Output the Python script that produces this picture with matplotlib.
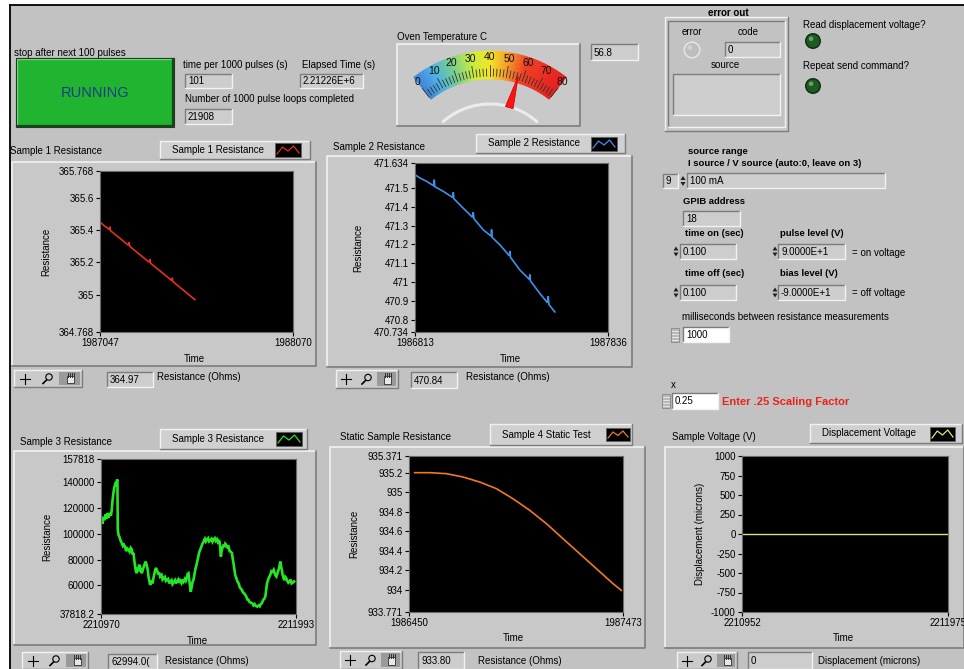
import numpy as np
import matplotlib.pyplot as plt
from matplotlib.patches import Rectangle, Circle, Polygon
from matplotlib.colors import LinearSegmentedColormap

plt.rcParams['font.family'] = ['Liberation Sans', 'DejaVu Sans']

W, H = 964, 669

# ---------------- data ----------------
oven_temp = 56.8
gauge_ticks = [0, 10, 20, 30, 40, 50, 60, 70, 80]

# Sample 1
s1_t0, s1_t1 = 1987047, 1988070
s1_ylim = (364.768, 365.768)
s1_yticks = [364.768, 365, 365.2, 365.4, 365.6, 365.768]
s1_ylabels = ['364.768', '365', '365.2', '365.4', '365.6', '365.768']
s1_off = [0, 20, 35, 50, 52, 55, 80, 106, 150, 155, 158, 200, 220, 260, 265, 268,
          310, 350, 380, 383, 386, 420, 460, 503]
s1_val = [365.451, 365.430, 365.418, 365.404, 365.422, 365.398, 365.374, 365.350,
          365.307, 365.325, 365.300, 365.259, 365.240, 365.202, 365.220, 365.195,
          365.155, 365.117, 365.088, 365.105, 365.082, 365.049, 365.010, 364.969]

# Sample 2
s2_t0, s2_t1 = 1986813, 1987836
s2_ylim = (470.734, 471.634)
s2_yticks = [470.734, 470.8, 470.9, 471, 471.1, 471.2, 471.3, 471.4, 471.5, 471.634]
s2_ylabels = ['470.734', '470.8', '470.9', '471', '471.1', '471.2', '471.3', '471.4',
              '471.5', '471.634']
s2_off = [0, 26, 62, 100, 102, 105, 150, 200, 203, 206, 256, 305, 309, 312, 362, 403,
          406, 409, 450, 500, 503, 506, 556, 606, 609, 612, 662, 702, 706, 710, 741]
s2_val = [471.572, 471.554, 471.536, 471.512, 471.545, 471.508, 471.483, 471.450,
          471.478, 471.444, 471.393, 471.345, 471.372, 471.338, 471.278, 471.245,
          471.280, 471.238, 471.198, 471.140, 471.165, 471.132, 471.064, 471.014,
          471.040, 471.006, 470.939, 470.890, 470.925, 470.880, 470.841]

# Sample 3
s3_t0, s3_t1 = 2210970, 2211993
s3_ylim = (37818.2, 157818)
s3_yticks = [37818.2, 60000, 80000, 100000, 120000, 140000, 157818]
s3_ylabels = ['37818.2', '60000', '80000', '100000', '120000', '140000', '157818']
s3_off = [0, 4, 8, 12, 16, 20, 25, 30, 35, 40, 47, 52, 56, 60, 65, 70, 74, 78, 82, 86,
          88, 92, 96, 102, 109, 115, 120, 126, 132, 138, 144, 150, 156, 161, 166, 170,
          175, 179, 183, 187, 191, 196, 200, 205, 210, 214, 218, 222, 228, 235, 240,
          245, 250, 255, 258, 265, 270, 275, 282, 288, 293, 300, 305, 310, 318, 323,
          328, 335, 340, 345, 352, 358, 363, 370, 375, 380, 388, 393, 398, 405, 410,
          415, 422, 428, 433, 440, 445, 450, 455, 459, 464, 468, 471, 476, 480, 485,
          490, 495, 503, 510, 515, 520, 528, 533, 538, 545, 550, 555, 562, 567, 573,
          580, 585, 590, 597, 602, 608, 613, 618, 622, 626, 629, 632, 636, 639, 645,
          648, 652, 658, 663, 669, 675, 681, 687, 691, 695, 700, 704, 710, 716, 722,
          728, 733, 739, 745, 751, 757, 763, 768, 774, 780, 787, 794, 800, 806, 813,
          820, 827, 833, 838, 844, 850, 856, 862, 867, 871, 878, 883, 888, 894, 900,
          906, 912, 916, 920, 925, 928, 933, 937, 941, 945, 949, 953, 958, 962, 967,
          972, 977, 983, 990, 995, 1000, 1007, 1013]
s3_val = [110000, 113000, 107500, 113000, 110500, 112000, 115000, 111500, 116000,
          112500, 116000, 114000, 118000, 125000, 131400, 136000, 138000, 137000,
          140500, 142000, 103000, 99000, 97800, 95000, 92700, 90500, 91500, 90000,
          86500, 88500, 87500, 86000, 89000, 88000, 84000, 85000, 79000, 74500, 71000,
          69400, 72500, 72000, 76000, 74500, 71000, 69400, 71500, 73300, 76000, 78400,
          75500, 72000, 66000, 62500, 60300, 63500, 61500, 65500, 70500, 73500, 72000,
          68500, 70000, 66800, 68000, 64500, 65500, 66500, 63500, 64200, 65000, 61500,
          62900, 64000, 61000, 62100, 64000, 61500, 62900, 64500, 62000, 63700, 61800,
          64500, 62900, 65000, 63500, 65500, 69000, 69400, 63000, 58000, 55100, 59000,
          62500, 64200, 68000, 72500, 77100, 82000, 85500, 87500, 90500, 92500, 93900,
          96000, 94000, 95200, 96500, 94000, 94700, 96000, 93800, 95200, 96500, 94500,
          95700, 93500, 94500, 93900, 88000, 82300, 86000, 88500, 90000, 91500, 89500,
          92100, 91000, 89500, 90000, 86500, 86000, 85000, 80500, 77100, 72000, 68100,
          65500, 63000, 61600, 58500, 57500, 56500, 54500, 53800, 52600, 51000, 49000,
          48700, 47000, 46500, 46100, 44500, 45500, 44000, 43500, 44500, 43800, 45500,
          46100, 48500, 49500, 51300, 57000, 61600, 65000, 66500, 68100, 71000, 70500,
          72000, 69000, 67500, 66800, 69000, 70700, 72500, 75500, 78400, 74500, 72000,
          68000, 65500, 64000, 66500, 65500, 63500, 62000, 62900, 64500, 61500, 62100,
          63000]

# Sample 4 (static)
s4_t0, s4_t1 = 1986450, 1987473
s4_ylim = (933.771, 935.371)
s4_yticks = [933.771, 934, 934.2, 934.4, 934.6, 934.8, 935, 935.2, 935.371]
s4_ylabels = ['933.771', '934', '934.2', '934.4', '934.6', '934.8', '935', '935.2',
              '935.371']
s4_off = [27, 99, 178, 258, 338, 418, 497, 577, 657, 736, 816, 896, 975, 1015]
s4_val = [935.200, 935.200, 935.190, 935.156, 935.104, 935.036, 934.933, 934.814,
          934.677, 934.523, 934.369, 934.215, 934.062, 933.993]

# Displacement
s5_t0, s5_t1 = 2210952, 2211975
s5_ylim = (-1000, 1000)
s5_yticks = [-1000, -750, -500, -250, 0, 250, 500, 750, 1000]
s5_ylabels = ['-1000', '-750', '-500', '-250', '0', '250', '500', '750', '1000']
s5_off = [0, 1023]
s5_val = [0, 0]

# ---------------- drawing helpers ----------------
PANEL = '#c2c2c2'
FS = 7

fig = plt.figure(figsize=(W / 100, H / 100), dpi=100)
fig.patch.set_facecolor('white')
bg = fig.add_axes([0, 0, 1, 1])
bg.set_xlim(0, W)
bg.set_ylim(H, 0)
bg.axis('off')

bg.add_patch(Rectangle((10, 5), W - 10, H - 5, fc=PANEL, ec='none', zorder=0))
bg.plot([10, 10], [5, H], color='black', lw=1.3, zorder=0.5)
bg.plot([10, W], [5, 5], color='black', lw=1.3, zorder=0.5)


def bevel(x0, y0, x1, y1, fc, raised=True, lw=1.0, z=1, hi='#f2f2f2', lo='#7c7c7c'):
    bg.add_patch(Rectangle((x0, y0), x1 - x0, y1 - y0, fc=fc, ec='none', zorder=z))
    a, b = (hi, lo) if raised else (lo, hi)
    bg.plot([x0, x0, x1], [y1, y0, y0], color=a, lw=lw, zorder=z + 0.1)
    bg.plot([x0, x1, x1], [y1, y1, y0], color=b, lw=lw, zorder=z + 0.1)


def txt(x, y, s, fs=FS, **kw):
    kw.setdefault('va', 'center')
    kw.setdefault('ha', 'left')
    kw.setdefault('zorder', 5)
    bg.text(x, y, s, fontsize=fs, **kw)


def numbox(x0, y0, x1, y1, s, fc='#cdcdcd'):
    bevel(x0, y0, x1, y1, fc, raised=False, z=2)
    txt(x0 + 3, (y0 + y1) / 2 + 0.5, s)


def spinner(x, y0, y1):
    ym = (y0 + y1) / 2
    bg.add_patch(Polygon([[x - 2.5, ym - 1], [x + 2.5, ym - 1], [x, ym - 5]],
                         fc='#202020', ec='none', zorder=4))
    bg.add_patch(Polygon([[x - 2.5, ym + 1], [x + 2.5, ym + 1], [x, ym + 5]],
                         fc='#202020', ec='none', zorder=4))


def knob(x, y):
    bg.add_patch(Rectangle((x - 4, y - 7), 8, 14, fc='#b8b8b8', ec='#888888', lw=0.6, zorder=3))
    for dy in (-4, -1, 2, 5):
        bg.plot([x - 3, x + 3], [y + dy, y + dy], color='#eeeeee', lw=0.6, zorder=4)


def led(x, y, r, fc, ring, shine):
    bg.add_patch(Circle((x, y), r + 1.5, fc=ring, ec='none', zorder=3))
    bg.add_patch(Circle((x, y), r, fc=fc, ec='none', zorder=4))
    bg.add_patch(Circle((x - r * 0.3, y - r * 0.35), r * 0.35, fc=shine,
                        ec='none', alpha=0.6, zorder=5))


def palette(x0, y0, x1, y1):
    bevel(x0, y0, x1, y1, '#cacaca', raised=True, z=2)
    w = (x1 - x0) / 3
    ym = (y0 + y1) / 2
    bg.add_patch(Rectangle((x0 + 2 * w, y0 + 2), w - 2, y1 - y0 - 4, fc='#9a9a9a', ec='none', zorder=3))
    cx = x0 + w / 2
    bg.plot([cx - 5, cx + 5], [ym, ym], color='black', lw=0.8, zorder=4)
    bg.plot([cx, cx], [ym - 5, ym + 5], color='black', lw=0.8, zorder=4)
    cx = x0 + 1.5 * w
    bg.add_patch(Circle((cx + 1, ym - 1.5), 3.2, fc='none', ec='black', lw=0.8, zorder=4))
    bg.plot([cx - 1.5, cx - 5], [ym + 1.5, ym + 5], color='black', lw=1.2, zorder=4)
    cx = x0 + 2.5 * w
    bg.add_patch(Rectangle((cx - 3.5, ym - 3), 7, 7.5, fc='#e8e8e8', ec='#303030', lw=0.6, zorder=4))
    for k in range(4):
        bg.plot([cx - 3 + 2 * k, cx - 3 + 2 * k], [ym - 6, ym - 2], color='#303030', lw=0.7, zorder=4)


def legend_box(x0, y0, x1, y1, name, color, sw):
    bevel(x0, y0, x1, y1, '#d0d0d0', raised=True, z=2)
    txt(x0 + 12, (y0 + y1) / 2, name)
    sx0, sy0, sx1, sy1 = sw
    bg.add_patch(Rectangle((sx0, sy0), sx1 - sx0, sy1 - sy0, fc='black', ec='#606060', lw=0.6, zorder=4))
    xs = np.linspace(sx0 + 2, sx1 - 2, 5)
    ys = [sy1 - 3, sy0 + 4, (sy0 + sy1) / 2 + 1, sy0 + 3, sy1 - 4]
    bg.plot(xs, ys, color=color, lw=0.9, zorder=5)


def graph(frame, plot, title, title_xy, leg, leg_name, sw, color, lw,
          t0, t1, off, val, ylim, yticks, ylabels, ylab, ylab_x, time_xy,
          pal, vbox, vtext, unit, unit_xy):
    bevel(*frame, '#c8c8c8', raised=True, lw=1.2, z=1)
    txt(title_xy[0], title_xy[1], title)
    legend_box(*leg, leg_name, color, sw)
    txt(ylab_x, (plot[1] + plot[3]) / 2, ylab, rotation=90, ha='center')
    txt(time_xy[0], time_xy[1], 'Time', ha='center')
    palette(*pal)
    numbox(*vbox, vtext)
    txt(unit_xy[0], unit_xy[1], unit)

    x0, y0, x1, y1 = plot
    ax = fig.add_axes([x0 / W, 1 - y1 / H, (x1 - x0) / W, (y1 - y0) / H])
    ax.set_facecolor('black')
    ax.plot([t0 + o for o in off], val, color=color, lw=lw, solid_joinstyle='miter')
    ax.set_xlim(t0, t1)
    ax.set_ylim(*ylim)
    ax.set_yticks(yticks)
    ax.set_yticklabels(ylabels)
    ax.set_xticks([t0, t1])
    ax.set_xticklabels([str(t0), str(t1)])
    ax.tick_params(labelsize=FS, length=3, width=0.8, pad=1.5, direction='out')
    for sp in ax.spines.values():
        sp.set_color('#6a6a6a')
        sp.set_linewidth(0.8)
    return ax


# ---------------- top-left controls ----------------
txt(14, 53, 'stop after next 100 pulses')
bevel(17, 59, 173, 126, '#20b431', raised=True, lw=1.6, z=2, hi='#6ee27a', lo='#0c4e12')
bg.add_patch(Rectangle((16, 58), 158, 69, fc='none', ec='#303030', lw=0.8, zorder=3))
txt(95, 93, 'RUNNING', fs=10.5, ha='center', color='#1c3d86')

txt(183, 65, 'time per 1000 pulses (s)')
numbox(185, 74, 232, 88, '101')
txt(302, 65, 'Elapsed Time (s)')
numbox(300, 74, 363, 88, '2.21226E+6')
txt(185, 99, 'Number of 1000 pulse loops completed')
numbox(185, 109, 232, 124, '21908')

# ---------------- gauge ----------------
txt(397, 37, 'Oven Temperature C')
bevel(397, 44, 580, 126, '#c9c9c9', raised=True, lw=1.2, z=1)
numbox(591, 44, 638, 60, '%.1f' % oven_temp)

gx, gy = 490, 175
cmap = LinearSegmentedColormap.from_list('oven', [
    (0.0, '#3b7fdc'), (0.12, '#48b0e6'), (0.25, '#74d08a'), (0.38, '#c8ee3a'),
    (0.5, '#f6e81e'), (0.62, '#f89a22'), (0.74, '#f23a1e'), (1.0, '#e81818')])


def gpt(v, r):
    th = np.radians(-38 + v / 80 * 76)
    return gx + r * np.sin(th), gy - r * np.cos(th)


steps = np.linspace(0, 80, 161)
for a, b in zip(steps[:-1], steps[1:]):
    pts = [gpt(a, 96), gpt(a, 124), gpt(b, 124), gpt(b, 96)]
    bg.add_patch(Polygon(pts, fc=cmap((a + b) / 160), ec=cmap((a + b) / 160), lw=0.3, zorder=2))
for v in np.arange(0, 81, 2):
    r1 = 110 if v % 10 == 0 else 106
    p0, p1 = gpt(v, 99), gpt(v, r1)
    bg.plot([p0[0], p1[0]], [p0[1], p1[1]], color='#303030', lw=0.6, zorder=3)
for v in gauge_ticks:
    px, py = gpt(v, 118)
    txt(px, py, str(v), fs=7.5, ha='center', color='#101010')
arc = np.linspace(-41, 41, 60)
bg.plot(gx + 71 * np.sin(np.radians(arc)), gy - 71 * np.cos(np.radians(arc)),
        color='#ececec', lw=2.2, zorder=2)
th = np.radians(-38 + oven_temp / 80 * 76)
tip = gpt(oven_temp, 103)
b1 = (gx + 70 * np.sin(th) - 4 * np.cos(th), gy - 70 * np.cos(th) - 4 * np.sin(th))
b2 = (gx + 70 * np.sin(th) + 4 * np.cos(th), gy - 70 * np.cos(th) + 4 * np.sin(th))
bg.add_patch(Polygon([tip, b1, b2], fc='#ff1414', ec='#c00000', lw=0.5, zorder=4))

# ---------------- error cluster & LEDs ----------------
bevel(665, 17, 788, 131, '#c6c6c6', raised=True, lw=1.0, z=1)
bevel(668, 21, 785, 127, '#c2c2c2', raised=False, lw=1.0, z=1.5)
txt(728, 13, 'error out', fontweight='bold', ha='center')
txt(692, 32, 'error', ha='center')
txt(748, 32, 'code', ha='center')
led(692, 50, 7, '#bdbdbd', '#e6e6e6', '#e0e0e0')
numbox(725, 42, 780, 57, '0')
txt(725, 65, 'source', ha='center')
bevel(673, 74, 780, 115, '#cdcdcd', raised=False, z=2)

txt(803, 25, 'Read displacement voltage?')
led(813, 41, 6.5, '#1f5a22', '#0d300f', '#9ad09a')
txt(803, 66, 'Repeat send command?')
led(813, 86, 6.5, '#1f5a22', '#0d300f', '#9ad09a')

# ---------------- right settings ----------------
txt(688, 152, 'source range', fontweight='bold', fs=6.8)
txt(688, 163, 'I source / V source (auto:0, leave on 3)', fontweight='bold', fs=6.8)
numbox(663, 174, 678, 188, '9')
spinner(683, 174, 188)
numbox(687, 173, 885, 188, '100 mA')

txt(683, 202, 'GPIB address', fontweight='bold', fs=6.8)
numbox(683, 211, 740, 226, '18')

txt(685, 234, 'time on (sec)', fontweight='bold', fs=6.8)
spinner(676, 244, 259)
numbox(680, 244, 736, 259, '0.100')
txt(780, 234, 'pulse level (V)', fontweight='bold', fs=6.8)
spinner(775, 244, 259)
numbox(778, 244, 845, 259, '9.0000E+1')
txt(852, 253, '= on voltage')

txt(685, 274, 'time off (sec)', fontweight='bold', fs=6.8)
spinner(676, 285, 300)
numbox(680, 285, 736, 300, '0.100')
txt(780, 274, 'bias level (V)', fontweight='bold', fs=6.8)
spinner(775, 285, 300)
numbox(778, 285, 845, 300, '-9.0000E+1')
txt(852, 293, '= off voltage')

txt(682, 317, 'milliseconds between resistance measurements')
knob(675, 335)
numbox(683, 327, 729, 342, '1000', fc='white')

txt(671, 385, 'x')
knob(666, 401)
numbox(672, 393, 718, 409, '0.25', fc='white')
txt(722, 402, 'Enter .25 Scaling Factor', fs=8, fontweight='bold', color='#e8241e')

# ---------------- graphs ----------------
graph((12, 162, 316, 366), (100, 171, 293, 332), 'Sample 1 Resistance', (10, 151),
      (160, 141, 310, 159), 'Sample 1 Resistance', (275, 143, 301, 157), '#e2301c', 1.2,
      s1_t0, s1_t1, s1_off, s1_val, s1_ylim, s1_yticks, s1_ylabels,
      'Resistance', 46, (194, 359), (14, 370, 82, 387), (107, 372, 153, 387), '364.97',
      'Resistance (Ohms)', (157, 377))

graph((327, 156, 632, 367), (415, 163, 608, 332), 'Sample 2 Resistance', (333, 147),
      (476, 134, 625, 153), 'Sample 2 Resistance', (591, 137, 617, 151), '#3c92ea', 1.2,
      s2_t0, s2_t1, s2_off, s2_val, s2_ylim, s2_yticks, s2_ylabels,
      'Resistance', 358, (510, 359), (336, 370, 398, 388), (411, 372, 457, 388), '470.84',
      'Resistance (Ohms)', (466, 377))

graph((14, 451, 316, 645), (101, 459, 296, 614), 'Sample 3 Resistance', (20, 442),
      (160, 429, 307, 449), 'Sample 3 Resistance', (276, 432, 302, 446), '#25e625', 1.9,
      s3_t0, s3_t1, s3_off, s3_val, s3_ylim, s3_yticks, s3_ylabels,
      'Resistance', 47, (197, 641), (22, 652, 88, 669), (108, 654, 157, 669), '62994.0(',
      'Resistance (Ohms)', (165, 661))

graph((330, 447, 645, 648), (409, 456, 623, 612), 'Static Sample Resistance', (340, 437),
      (490, 424, 632, 445), 'Sample 4 Static Test', (606, 428, 630, 441), '#f07a22', 1.2,
      s4_t0, s4_t1, s4_off, s4_val, s4_ylim, s4_yticks, s4_ylabels,
      'Resistance', 354, (513, 638), (340, 651, 402, 669), (418, 652, 464, 669), '933.80',
      'Resistance (Ohms)', (478, 661))

graph((665, 447, 964, 648), (742, 456, 948, 612), 'Sample Voltage (V)', (672, 437),
      (810, 424, 962, 443), 'Displacement Voltage', (930, 427, 955, 441), '#d6e872', 1.0,
      s5_t0, s5_t1, s5_off, s5_val, s5_ylim, s5_yticks, s5_ylabels,
      'Displacement (microns)', 700, (843, 638), (677, 652, 737, 669), (748, 652, 812, 669), '0',
      'Displacement (microns)', (818, 661))

fig.savefig('out.png', dpi=100, facecolor=fig.get_facecolor())
